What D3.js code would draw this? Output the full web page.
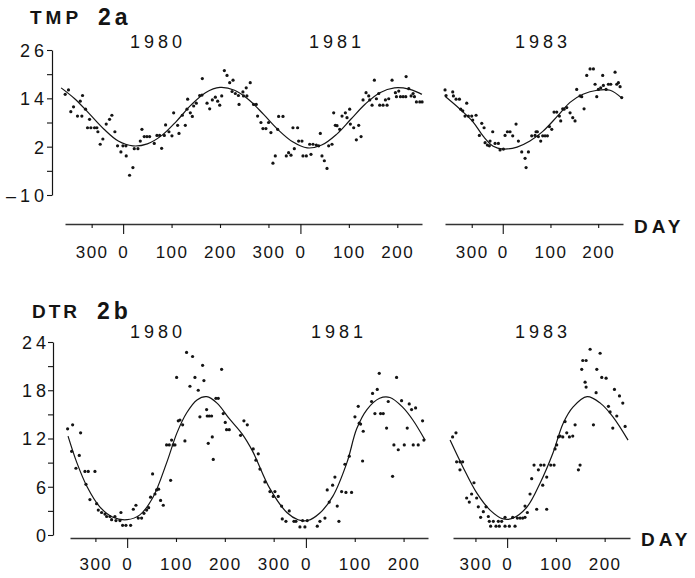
<!DOCTYPE html>
<html>
<head>
<meta charset="utf-8">
<script src="https://cdn.jsdelivr.net/npm/d3@7"></script>
<style>
  body { margin: 0; background: #fff; }
  svg { display: block; font-family: 'Liberation Sans', Arial, sans-serif; }
</style>
</head>
<body>
<div id="chart"></div>
<script>
// ---- data (day counted from Jan 1 of first year of each panel) ----

// tick days and their printed labels
const dayTicks8081 = [-65, 0, 100, 200, 300, 366, 466, 566];
const dayLabels8081 = ['300', '0', '100', '200', '300', '0', '100', '200'];
const dayTicks83 = [-65, 0, 100, 200];
const dayLabels83 = ['300', '0', '100', '200'];
const zeroDays = [0, 366];

const tmpTicks = [-10, -4, 2, 8, 14, 20, 26];
const tmpTickLabels = { '-10': '\u201310', '2': '2', '14': '14', '26': '26' };
const dtrTicks = [0, 3, 6, 9, 12, 15, 18, 21, 24];
const dtrTickLabels = { '0': '0', '6': '6', '12': '12', '18': '18', '24': '24' };

// TMP 2a : observed points [day, value]
const tmpDots8081 = [
  [-119.6,15.0],[-112.8,16.1],[-108,10.7],[-102.4,11.9],[-88.6,13.3],[-83.8,14.7],[-94.2,9.6],[-85.2,9.6],
  [-77.6,11.3],[-73.5,6.7],[-66.6,6.7],[-69.3,8.8],[-59,6.7],[-54.2,6.7],[-52.1,5.7],[-47.3,2.6],[-41.8,3.9],
  [-34.9,7.6],[-28,8.8],[-23.2,9.8],[-17,5.7],[-11.5,2.2],[-4.6,0.7],[-0.4,2.2],[5.8,2.2],[6.4,-0.3],
  [13.3,-5.1],[20.2,-3.2],[23,1.5],[30.6,1.5],[35.4,3.4],[38.8,6.3],[43.6,4.5],[49.2,4.5],[54.7,4.5],
  [64.3,2.8],[69.8,4.8],[75.3,4.8],[79.5,1.6],[85,4.8],[87.7,7.4],[94.6,5.7],[100.8,4.7],[104.3,10.4],
  [112.5,7.3],[115.3,5.3],[122.2,9.8],[128.4,7.3],[133.2,13.8],[131.8,11.3],[138.7,10.4],[142.9,9.5],
  [145.6,12.1],[151.1,12.8],[158,14.7],[163.5,18.9],[162.8,14.8],[173.2,12.8],[178.7,11.4],[184.2,13.6],
  [190.4,14.3],[195.2,13.3],[199.4,12.3],[203.5,14.6],[209,20.9],[214.5,19.7],[220,17.9],[226.9,18.5],
  [224.9,15.7],[231.7,15.2],[238,14.7],[239.3,12.5],
  [247.3,15.6],[254.1,16.6],[262.4,17.9],[248.6,14.6],[255.5,14.6],[269.3,12.5],[274.8,12.5],[277.6,9.6],
  [284.5,8.0],[288.6,6.5],[294.8,6.5],[300.3,8.0],[305.1,5.5],[309.3,-2.1],[314.1,-0.3],[318.9,6.3],
  [321,9.5],[330,9.5],[336.8,-0.3],[341.6,0.5],[346.5,-0.1],[350.6,6.7],[353.4,1.5],[360.2,6.7],
  [362.3,3.4],[369.2,3.4],[371.3,-0.3],[378.2,-0.3],[385.1,2.6],[387.8,0.1],[392,2.6],[398.8,2.4],
  [403.7,2.2],[407.1,5.3],[410.5,-0.3],[415.4,-1.5],[420.9,-3.4],[424.3,2.2],[431.2,2.6],[434.7,10.4],
  [438.1,7.3],[441.6,7.2],[447.1,6.3],[451.9,9.6],[458.8,10.4],[462.2,9.2],[467.7,11.3],[469.1,7.6],
  [476,6.7],[481.5,3.7],[486.3,7.3],[491.2,4.5],[495.3,13.6],[501.5,15.4],[507,14.6],[509.1,13.6],
  [513.9,12.3],[518.7,18.5],[522.9,13.9],[527.7,15.2],[529.7,12.3],[536.6,12.3],[541.5,13.6],[544.9,12.3],
  [548.3,13.9],[555.2,18.5],[562.1,15.4],[564.2,14.4],[569,15.8],[572.5,14.4],[578,14.4],[583.5,14.4],
  [584.2,19.4],[589.7,16.4],[594.5,14.6],[598.6,15.2],[601.4,14.4],[605.5,13.1],[612.4,13.1],[617.2,13.1]
];
const tmpDots83 = [
  [-120.9,16.1],[-118.8,14.7],[-104.8,15.6],[-103.4,14.6],[-97.8,13.8],[-90.8,13.8],[-88,11.3],[-83.8,10.9],
  [-75.5,12.8],[-79,9.6],[-72,9.6],[-65,9.6],[-62.9,8.6],[-55.9,9.8],[-49,4.8],[-44,7.8],[-39.1,6.7],
  [-37,3.0],[-32.2,2.4],[-28,2.2],[-26.6,3.4],[-21,5.7],[-16.1,2.8],[-9.1,2.8],[-5.6,1.2],[1.4,1.4],
  [4.9,4.8],[9.8,5.7],[15.3,5.7],[20.9,4.7],[27.9,7.6],[32.8,3.4],[39.8,0.7],[46.8,-0.9],[48.9,-3.2],
  [53.8,0.7],[60.7,4.7],[67.7,4.8],[69.8,5.7],[72.6,5.7],[74.7,4.5],[79.6,3.4],[83.8,4.7],[88.7,4.7],
  [93.6,4.7],[97.8,7.0],[102.7,6.3],[107.5,10.6],[113.1,10.6],[118.7,9.6],[121.5,8.4],[125.7,11.4],
  [128.5,11.3],[134.1,11.7],[141.1,10.4],[146.7,9.2],[151.5,8.4],[155,16.2],[162,14.6],[165.5,14.4],
  [170.4,11.4],[176,19.7],[183,21.3],[190,21.3],[193.5,17.5],[197,14.4],[200.4,16.2],[205.3,16.6],
  [209.5,19.7],[210.9,17.2],[216.5,16.2],[221.4,17.5],[226.3,17.5],[235.4,20.5],[238.9,17.5],[242.4,17.9],
  [245.9,16.9],[249.3,14.2]
];
// TMP 2a : fitted curve
const tmpFit8081 = [
  [-128,16.6],[-100,13.9],[-70,10.2],[-40,6.4],[-10,3.4],[20,2.2],[50,2.7],[80,4.8],[110,8.3],[140,12.3],
  [170,15.4],[200,16.7],[230,16.0],[260,13.6],[290,10.0],[320,6.2],[350,3.2],[380,1.7],[410,2.4],[440,5.0],
  [470,8.8],[500,12.6],[530,15.4],[560,16.6],[590,16.3],[617,15.0]
];
const tmpFit83 = [
  [-121,14.5],[-89.5,11.3],[-62,8.1],[-41,4.6],[-20,2.1],[0.6,1.4],[30,1.9],[57,3.4],[84,5.8],[114,9.5],
  [141,13.0],[168,15.0],[198,16.0],[225,16.0],[250,14.0]
];

// DTR 2b : observed points [day, value]
const dtrDots8081 = [
  [-121.9,13.2],[-111.6,13.7],[-95.3,12.7],[-113.7,10.4],[-104.8,8.3],[-98,9.9],[-86.4,7.9],[-79.6,7.9],
  [-65.9,7.9],[-84.3,6.3],[-76.2,4.4],[-62.5,3.9],[-59.1,3.1],[-52.3,2.8],[-45.4,2.6],[-42,2.3],[-35.2,2.3],
  [-31.8,1.9],[-22.9,1.8],[-14.7,1.8],[-25,2.3],[-12.7,2.8],[-9.3,1.2],[-2.5,1.2],[7.1,1.2],[12.6,3.2],
  [18,3.7],[22.8,2.1],[29.6,2.1],[34.4,2.7],[39.9,3.1],[44,3.4],[48,4.7],[52.1,7.6],[57,5.1],[60.3,5.6],
  [64.4,5.7],[68.5,4.3],[74,3.7],[80.8,11.2],[86.3,11.2],[89,6.8],[91,11.8],[94.4,11.2],[97.9,11.2],
  [101.3,19.6],[104.7,14.2],[108.1,14.3],[113.6,13.7],[118.3,11.7],[121.7,22.7],[128.6,18.5],[134,22.2],
  [138.8,19.6],[145.6,18.0],[149,14.7],[154.5,21.1],[157.2,19.2],[162.7,15.6],[164,14.8],[166.1,11.4],
  [168.1,14.8],[172.9,14.8],[174.3,12.2],[176.3,9.4],[181.8,17.0],[186.6,17.0],[193.4,20.6],[196.8,15.1],
  [200.9,14.0],[203.6,13.1],[209.1,13.1],
  [232.3,12.4],[239.1,14.2],[246,13.7],[258.2,10.7],[263.7,9.3],[268.5,10.1],[271.9,8.2],[282.1,6.6],
  [292.4,5.4],[299.2,4.8],[302.6,5.4],[309.4,4.8],[316.2,3.6],[317.6,2.0],[325.1,1.7],[331.9,3.0],
  [341.5,1.7],[345.6,1.7],[353.8,1.0],[359.2,1.8],[364,1.0],[368.8,1.8],[389.3,1.1],[394.7,1.7],[405,2.1],
  [409.7,5.6],[413.8,4.1],[420.7,6.2],[425.4,7.2],[430.2,3.6],[433.6,1.7],[439.1,5.4],[445.9,8.8],
  [448,5.3],[459.5,5.3],[454.8,9.8],[466.4,14.7],[473.2,16.0],[475.2,13.9],[478,13.8],[482.1,9.2],
  [483.4,12.9],[500.5,16.6],[502.5,17.6],[507.3,15.1],[512.1,18.1],[516.2,20.1],[518.9,15.1],[524.4,15.1],
  [531.2,13.3],[534.6,16.6],[543.5,7.3],[546.2,11.2],[555.1,10.6],[551.7,19.6],[561.9,16.7],[567.4,11.2],
  [573.5,13.3],[577.6,16.3],[582.4,15.6],[585.8,11.2],[590.6,15.8],[596,11.2],[604.9,14.2],[607.6,11.8]
];
const dtrDots83 = [
  [-111.8,12.2],[-104.9,12.7],[-103.6,9.1],[-96.7,9.1],[-96.7,8.1],[-91.2,9.1],[-83,4.6],[-77.6,4.1],
  [-72.8,5.1],[-68,6.5],[-62.5,4.6],[-59.1,3.5],[-54.3,2.2],[-48.8,2.9],[-43.3,3.5],[-38.5,2.3],[-36.5,1.7],
  [-33.8,1.1],[-28.3,1.7],[-22.8,1.1],[-18,1.7],[-16,1.1],[-11.2,1.7],[-4.3,2.2],[-4.3,1.1],[4.6,1.1],
  [11.4,2.2],[16.2,1.1],[21,2.1],[26.5,2.1],[31.9,2.1],[36.7,2.2],[36.7,3.6],[41.5,2.8],[47,5.1],[50.4,7.0],
  [55.2,8.7],[60.7,3.2],[64.1,8.1],[68.9,8.7],[73,6.2],[75.7,8.7],[81.2,7.2],[81.2,3.2],[89.4,8.7],
  [96.3,8.7],[98.3,10.7],[101.7,11.2],[105.2,12.2],[108.6,12.3],[114.1,12.2],[118.8,14.1],[122.3,12.7],
  [127.7,12.2],[134.6,12.3],[139.4,13.7],[146.2,8.1],[149.6,8.7],[153,20.6],[155.1,21.7],[162,21.7],
  [159.9,19.0],[162,18.4],[170.2,23.1],[177,13.7],[182.5,17.7],[183.9,20.6],[190.7,22.6],[194.1,19.6],
  [203,19.5],[207.8,16.0],[211.2,15.3],[216.7,13.3],[220.1,18.1],[224.9,14.8],[230.4,17.3],[237.2,16.4],
  [242,13.5]
];
// DTR 2b : fitted curve
const dtrFit8081 = [
  [-121,12.3],[-103,9.0],[-82,6.0],[-56,3.5],[-29,2.2],[0,1.9],[26,2.5],[53,4.7],[81,9.0],[102,12.7],
  [122,15.2],[143,16.8],[163,17.2],[184,16.4],[210,14.4],[235,12.6],[257,10.4],[292,5.8],[327,2.8],
  [350,1.9],[370,1.8],[394,2.7],[421,4.8],[450,9.0],[470,13.2],[491,15.6],[517,17.0],[538,17.1],
  [564,15.9],[585,14.3],[610,11.8]
];
const dtrFit83 = [
  [-117,11.8],[-91,8.5],[-62,5.2],[-35,3.1],[-8,2.0],[12,2.1],[41,3.5],[68,6.5],[94,10.2],[115,13.9],
  [135,15.9],[164,17.2],[191,16.4],[217,14.7],[248,11.8]
];

// ---- layout ----
const W = 695, H = 578;
const svg = d3.select('#chart').append('svg').attr('width', W).attr('height', H);
const ink = '#141414';

const rows = [
  {
    name: 'TMP', tag: '2a', nameX: 30, tagX: 98, titleY: 24,
    yDomain: [-10, 26], yRange: [195, 50], yAxisX: 52, yLabelRight: 44,
    ticks: tmpTicks, tickLabels: tmpTickLabels,
    xAxisY: 224, labelY: 34, yearY: 48, dayX: 634, dayY: 233,
    panels: [
      { domain: [-120, 617], range: [65, 422], ticks: dayTicks8081, labels: dayLabels8081,
        dots: tmpDots8081, fit: tmpFit8081, years: [['1980', 156], ['1981', 335]] },
      { domain: [-121, 252], range: [445, 623], ticks: dayTicks83, labels: dayLabels83,
        dots: tmpDots83, fit: tmpFit83, years: [['1983', 541]] }
    ]
  },
  {
    name: 'DTR', tag: '2b', nameX: 32, tagX: 97, titleY: 318,
    yDomain: [0, 24], yRange: [535, 342], yAxisX: 53, yLabelRight: 46,
    ticks: dtrTicks, tickLabels: dtrTickLabels,
    xAxisY: 538, labelY: 32, yearY: 338, dayX: 641, dayY: 546,
    panels: [
      { domain: [-117, 616], range: [70, 428], ticks: dayTicks8081, labels: dayLabels8081,
        dots: dtrDots8081, fit: dtrFit8081, years: [['1980', 156], ['1981', 337]] },
      { domain: [-111, 252], range: [453, 630], ticks: dayTicks83, labels: dayLabels83,
        dots: dtrDots83, fit: dtrFit83, years: [['1983', 541]] }
    ]
  }
];

rows.forEach(row => {
  const y = d3.scaleLinear().domain(row.yDomain).range(row.yRange);

  // title, e.g. "TMP 2a"
  svg.append('text')
    .attr('x', row.nameX).attr('y', row.titleY)
    .style('font-size', '19px').style('font-weight', 'bold')
    .style('letter-spacing', row.name === 'TMP' ? '4px' : '3px')
    .style('fill', ink).text(row.name);
  svg.append('text')
    .attr('x', row.tagX).attr('y', row.titleY + 1)
    .style('font-size', '23px').style('font-weight', 'bold')
    .style('letter-spacing', '4px')
    .style('fill', ink).text(row.tag);

  // y axis
  const yAxis = d3.axisLeft(y)
    .tickValues(row.ticks)
    .tickSize(5)
    .tickSizeOuter(0)
    .tickFormat(d => row.tickLabels[String(d)] || '');
  const yg = svg.append('g')
    .attr('transform', `translate(${row.yAxisX},0)`)
    .call(yAxis);
  yg.select('.domain').attr('stroke', ink).attr('stroke-width', 1.2);
  yg.selectAll('.tick line').attr('stroke', ink).attr('stroke-width', 1.1);
  yg.selectAll('.tick text')
    .attr('x', row.yLabelRight - row.yAxisX + 4)
    .attr('dy', '0.36em')
    .style('font-size', '18px')
    .style('letter-spacing', '4px')
    .style('font-family', "'Liberation Sans', Arial, sans-serif")
    .style('fill', ink);

  // DAY label
  svg.append('text')
    .attr('x', row.dayX).attr('y', row.dayY)
    .style('font-size', '19px').style('font-weight', 'bold')
    .style('letter-spacing', '4px')
    .style('fill', ink).text('DAY');

  row.panels.forEach(p => {
    const x = d3.scaleLinear().domain(p.domain).range(p.range);

    const xAxis = d3.axisBottom(x)
      .tickValues(p.ticks)
      .tickSize(4)
      .tickSizeOuter(0)
      .tickFormat((d, i) => p.labels[i]);
    const xg = svg.append('g')
      .attr('transform', `translate(0,${row.xAxisY})`)
      .call(xAxis);
    xg.select('.domain').attr('stroke', '#333').attr('stroke-width', 1.3);
    xg.selectAll('.tick line')
      .attr('stroke', ink).attr('stroke-width', 1.1)
      .attr('y2', d => zeroDays.includes(d) ? 10 : 4);
    xg.selectAll('.tick text')
      .attr('y', row.labelY).attr('dy', 0)
      .style('font-size', '17px')
      .style('letter-spacing', '1.5px')
      .style('font-family', "'Liberation Sans', Arial, sans-serif")
      .style('fill', ink);

    // year labels
    p.years.forEach(([label, cx]) => {
      svg.append('text')
        .attr('x', cx + 2).attr('y', row.yearY)
        .attr('text-anchor', 'middle')
        .style('font-size', '18px')
        .style('letter-spacing', '4px')
        .style('fill', ink).text(label);
    });

    // fitted curve
    const line = d3.line()
      .x(d => x(d[0]))
      .y(d => y(d[1]))
      .curve(d3.curveCatmullRom.alpha(0.5));
    svg.append('path')
      .datum(p.fit)
      .attr('d', line)
      .attr('fill', 'none')
      .attr('stroke', ink)
      .attr('stroke-width', 1.2);

    // observations
    svg.append('g').selectAll('circle')
      .data(p.dots)
      .join('circle')
      .attr('cx', d => x(d[0]))
      .attr('cy', d => y(d[1]))
      .attr('r', 1.6)
      .attr('fill', ink);
  });
});
</script>
</body>
</html>
